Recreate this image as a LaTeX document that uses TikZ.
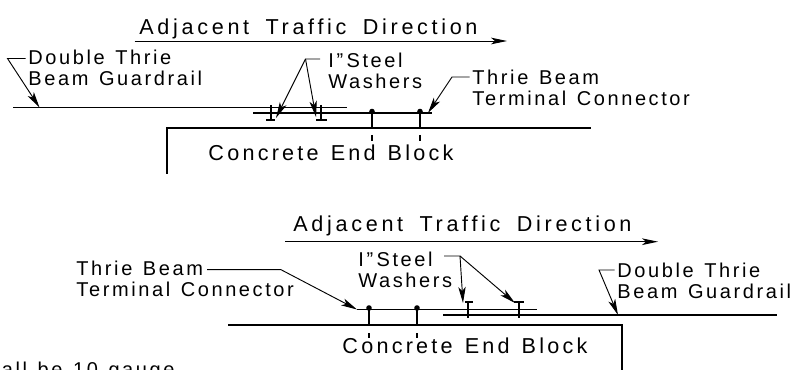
\documentclass[tikz,border=0pt]{standalone}
\usepackage{fontspec}
\setmainfont[LetterSpace=13,WordSpace=1.3]{Liberation Sans}
\newfontfamily\titlefont[LetterSpace=17,WordSpace=1.7]{Liberation Sans}
\newfontfamily\blockfont[LetterSpace=15,WordSpace=1.3]{Liberation Sans}
\usetikzlibrary{arrows.meta,calc,positioning}
\tikzstyle{label} = [anchor=north west, align=left, inner ysep=0pt, inner xsep=2pt,
font=\fontsize{15}{15.75}\selectfont]
\tikzstyle{title} = [label, font=\titlefont\fontsize{16.2}{15.75}\selectfont]
\tikzstyle{block} = [label, font=\blockfont\fontsize{16.2}{15.75}\selectfont]
\tikzstyle{arrow} = [line width=0.7pt,-{Stealth[length=12pt,width=5pt,inset=3pt]}]
\tikzstyle{leader} = [line width=0.7pt,-{Stealth[length=12pt,width=5.5pt,inset=3pt]}]
\tikzstyle{line} = [line width=1.1pt]
\tikzstyle{bolt} = [line width=1.8pt]
\begin{document}
\begin{tikzpicture}[x=0.75pt,y=-0.75pt]
            \useasboundingbox (0,0) rectangle (791,370);
            % upper detail
            \node[title] (trafficA) at (136.5,18.5) {Adjacent Traffic Direction};
            \coordinate (trafficAstart) at (134.5,41);
            \coordinate (trafficAend) at (507,41);
            \draw[arrow] (trafficAstart) -- (trafficAend);
            \node[label] (railA) at (25.5,49.5) {Double Thrie\\Beam Guardrail};
            \coordinate (railAknee) at (7.5,58.5);
            \coordinate (railAtip) at (39.5,107.5);
            \draw[leader] (railA.west |- railAknee) -- (railAknee) -- (railAtip);
            \coordinate (railAleft) at (13,107.5);
            \coordinate (railAright) at (347,107.5);
            \draw[line] (railAleft) -- (railAright);
            \coordinate (connAleft) at (253,113);
            \coordinate (connAright) at (432,113);
            \draw[line] (connAleft) -- (connAright);
            \coordinate (blockAbottom) at (167,174);
            \coordinate (blockAcorner) at (167,128);
            \coordinate (blockAright) at (591,128);
            \draw[line] (blockAbottom) -- (blockAcorner) -- (blockAright);
            \draw[bolt] (271,105) -- (271,120);
            \draw[bolt] (266,120) -- (275,120);
            \draw[bolt] (321,105) -- (321,120);
            \draw[bolt] (316,120) -- (327,120);
            \draw[bolt] (372,111) -- (372,129);
            \draw[bolt] (372,135) -- (372,141);
            \draw (372,111.5) node[fill,circle,inner sep=0pt,minimum size=4.2pt] {};
            \draw[bolt] (420,111) -- (420,129);
            \draw[bolt] (420,135) -- (420,141);
            \draw (420,111.5) node[fill,circle,inner sep=0pt,minimum size=4.2pt] {};
            \node[label] (washA) at (325.5,52.5) {I"\,Steel\\Washers};
            \coordinate (washAstart) at (320,59);
            \coordinate (washAknee) at (305.5,59);
            \coordinate (washAtipL) at (276,118);
            \coordinate (washAtipR) at (316,117);
            \draw[leader] (washAstart) -- (washAknee) -- (washAtipL);
            \draw[leader] (washAknee) -- (washAtipR);
            \node[label] (connA) at (469.5,69.5) {Thrie Beam\\Terminal Connector};
            \coordinate (connAknee) at (452,77);
            \coordinate (connAtip) at (428,113);
            \draw[leader] (connA.west |- connAknee) -- (connAknee) -- (connAtip);
            \node[block] (blockA) at (205.5,144.5) {Concrete End Block};
            % lower detail
            \node[title] (trafficB) at (290.5,215.5) {Adjacent Traffic Direction};
            \coordinate (trafficBstart) at (285,241.7);
            \coordinate (trafficBend) at (658,241.7);
            \draw[arrow] (trafficBstart) -- (trafficBend);
            \node[label] (connB) at (73.5,261) {Thrie Beam\\Terminal Connector};
            \coordinate (connBstart) at (207,269.7);
            \coordinate (connBknee) at (281,269.7);
            \coordinate (connBtip) at (357,309.5);
            \draw[leader] (connBstart) -- (connBknee) -- (connBtip);
            \coordinate (connBright) at (537,309.5);
            \draw[line] (connBtip) -- (connBright);
            \coordinate (railBleft) at (443,315);
            \coordinate (railBright) at (777,315);
            \draw[line] (railBleft) -- (railBright);
            \coordinate (blockBleft) at (228,325);
            \coordinate (blockBcorner) at (622,325);
            \coordinate (blockBbottom) at (622,372);
            \draw[line] (blockBleft) -- (blockBcorner) -- (blockBbottom);
            \draw[bolt] (369,307) -- (369,325);
            \draw[bolt] (369,333) -- (369,338);
            \draw (369,308) node[fill,circle,inner sep=0pt,minimum size=4.2pt] {};
            \draw[bolt] (417,307) -- (417,325);
            \draw[bolt] (417,333) -- (417,338);
            \draw (417,308) node[fill,circle,inner sep=0pt,minimum size=4.2pt] {};
            \draw[bolt] (468,302) -- (468,318);
            \draw[bolt] (465,302) -- (473,302);
            \draw[bolt] (519,302) -- (519,318);
            \draw[bolt] (514,302) -- (524,302);
            \node[label] (washB) at (355.5,251.5) {I"\,Steel\\Washers};
            \coordinate (washBstart) at (444,256);
            \coordinate (washBknee) at (460,256);
            \coordinate (washBtipL) at (463,303);
            \coordinate (washBtipR) at (515,303);
            \draw[leader] (washBstart) -- (washBknee) -- (washBtipL);
            \draw[leader] (washBknee) -- (washBtipR);
            \node[label] (railB) at (614.5,263) {Double Thrie\\Beam Guardrail};
            \coordinate (railBknee) at (599,270);
            \coordinate (railBtip) at (618,315);
            \draw[leader] (railB.west |- railBknee) -- (railBknee) -- (railBtip);
            \node[block] (blockB) at (339.5,337.5) {Concrete End Block};
            % cut off by the lower edge
            \node[label,anchor=north east] (note) at (177.5,362) {all be 10 gauge};
        \end{tikzpicture}
\end{document}
